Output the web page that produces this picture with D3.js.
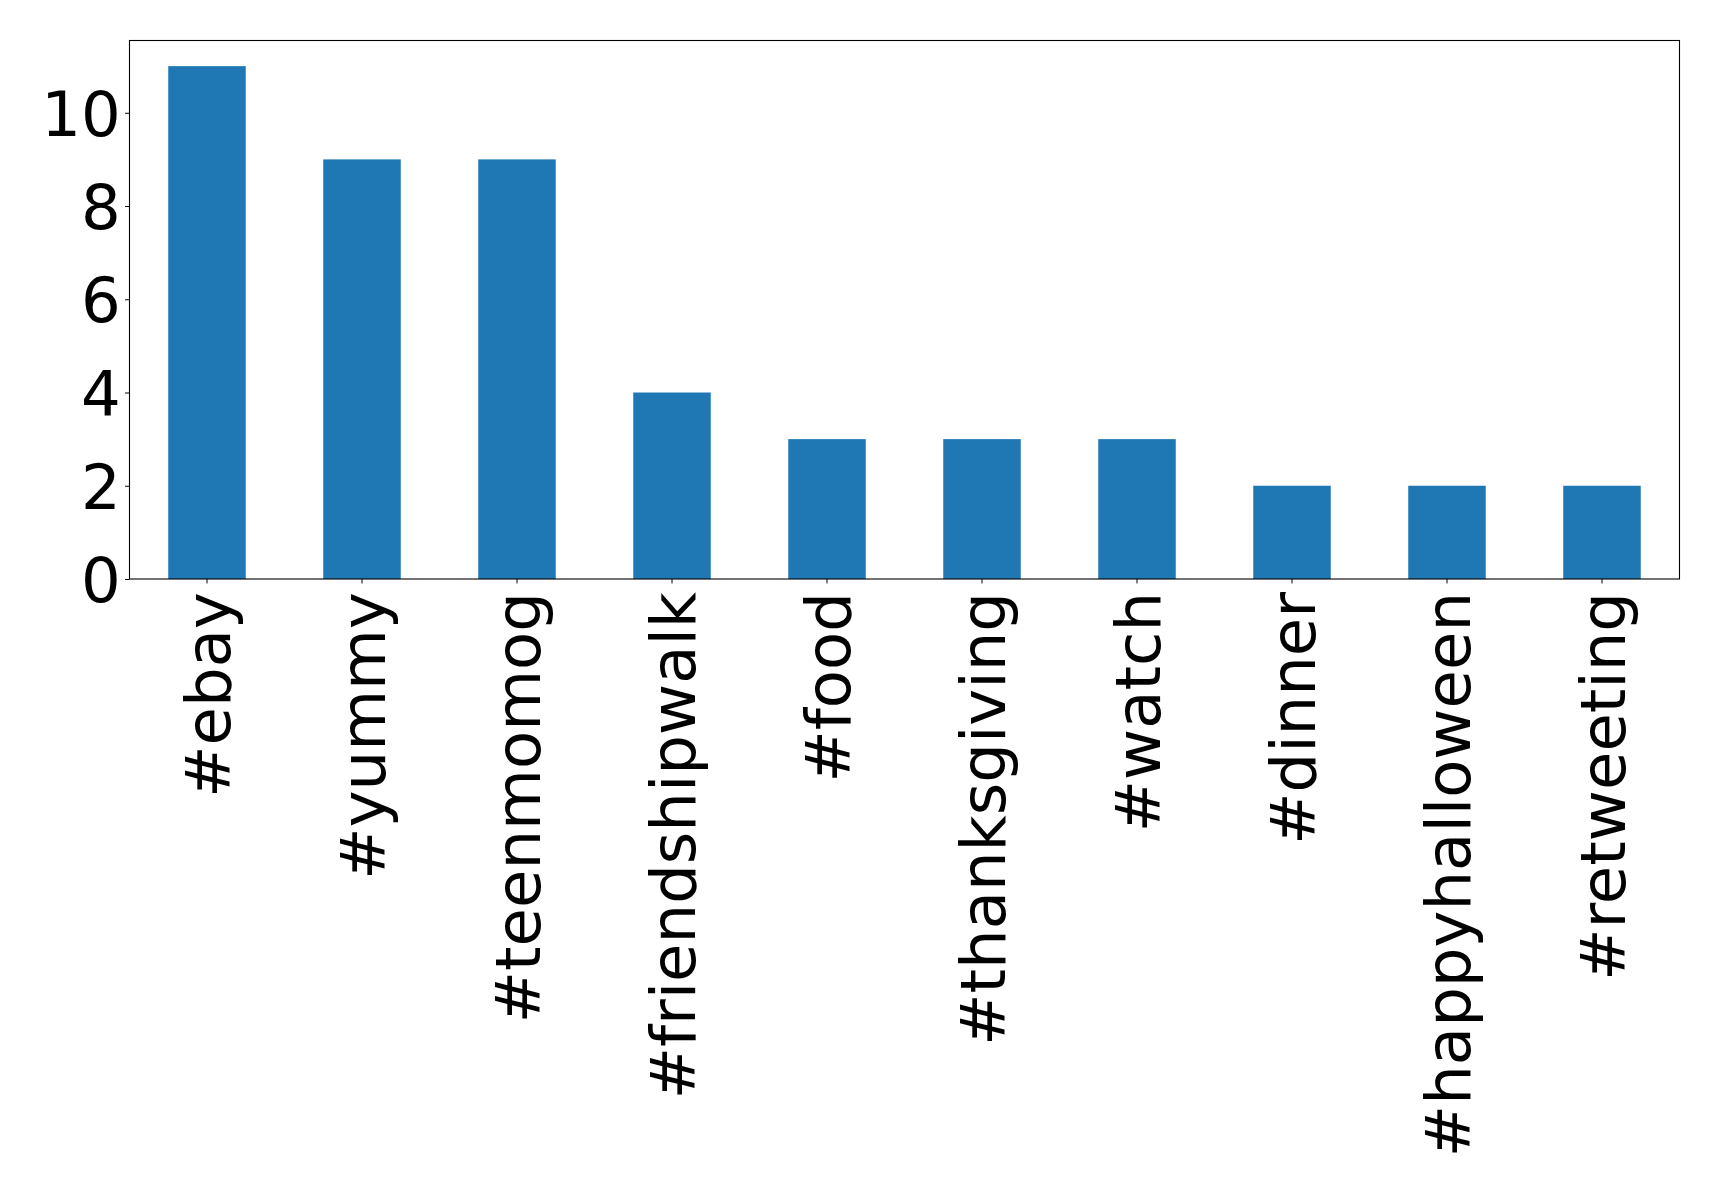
<!DOCTYPE html>
<html><head><meta charset="utf-8">
<script src="https://cdn.jsdelivr.net/npm/d3@7"></script>
<style>body{margin:0;background:#fff}svg{display:block}</style>
</head><body>
<script>
const categories = ["#ebay","#yummy","#teenmomog","#friendshipwalk","#food","#thanksgiving","#watch","#dinner","#happyhalloween","#retweeting"];
const values = [11,9,9,4,3,3,3,2,2,2];
const yTicks = [0,2,4,6,8,10];

(function(){
const W = 1719, H = 1193;
const mLeft = 129.5, mRight = 1679.5, mTop = 40.5, mBottom = 579;
const svg = d3.select("body").append("svg").attr("width", W).attr("height", H);

const x = d3.scaleBand().domain(categories).range([mLeft, mRight]).paddingInner(0.5).paddingOuter(0.25);
const y = d3.scaleLinear().domain([0, 11.55]).range([mBottom, mTop]);

svg.append("g").selectAll("rect").data(values).join("rect")
  .attr("x", (d,i) => x(categories[i]))
  .attr("y", d => y(d))
  .attr("width", x.bandwidth())
  .attr("height", d => y(0) - y(d))
  .attr("fill", "#1f77b4");

const font = "'DejaVu Sans', sans-serif";
const fs = 62.5;
const yAxis = svg.append("g").attr("transform", `translate(${mLeft},0)`)
  .call(d3.axisLeft(y).tickValues(yTicks).tickSize(4.4).tickPadding(4.4).tickFormat(d3.format("d")));
yAxis.select(".domain").remove();
yAxis.selectAll("text").attr("font-family", font).attr("font-size", fs).attr("fill", "#000").attr("dy", "0.36em");
yAxis.selectAll("line").attr("stroke", "#000");

const xAxis = svg.append("g").attr("transform", `translate(0,${mBottom})`)
  .call(d3.axisBottom(x).tickSize(4.4).tickPadding(0));
xAxis.select(".domain").remove();
xAxis.selectAll("line").attr("stroke", "#000");
xAxis.selectAll("text")
  .attr("font-family", font).attr("font-size", fs).attr("fill", "#000")
  .attr("text-anchor", "end")
  .attr("transform", "translate(0,13) rotate(-90)")
  .attr("x", 0).attr("y", 0).attr("dy", "0.36em");

svg.append("rect").attr("x", mLeft).attr("y", mTop).attr("width", mRight-mLeft).attr("height", mBottom-mTop)
  .attr("fill", "none").attr("stroke", "#000").attr("stroke-width", 1.1);
})();
</script>
</body></html>
